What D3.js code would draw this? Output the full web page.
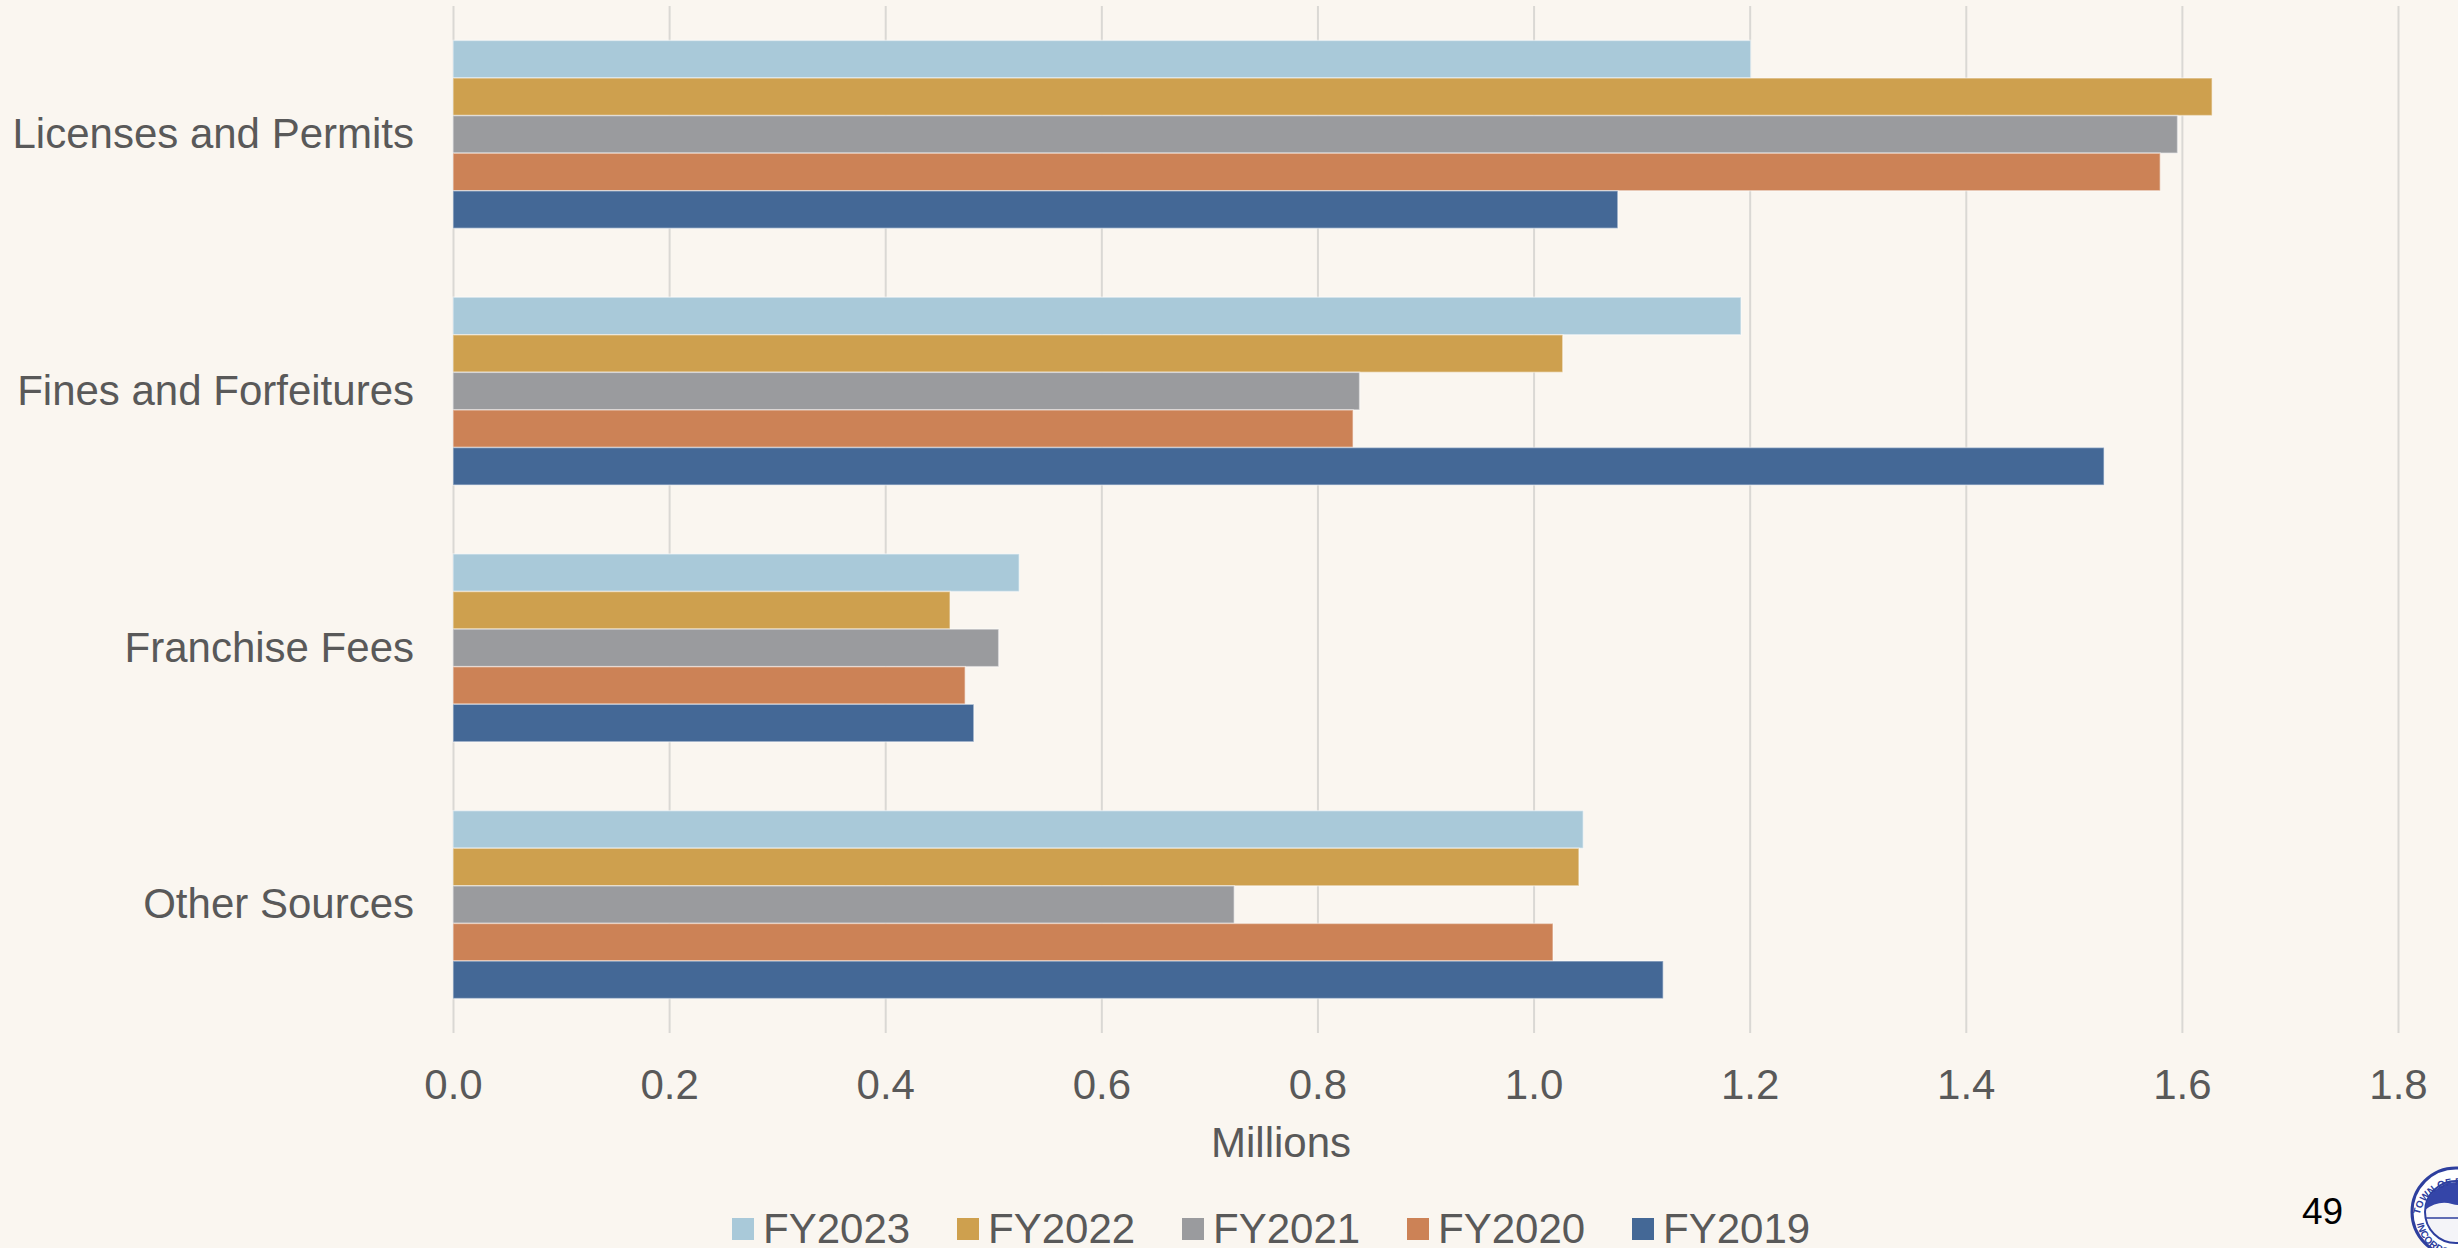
<!DOCTYPE html>
<html>
<head>
<meta charset="utf-8">
<script src="https://cdn.jsdelivr.net/npm/d3@7"></script>
<style>
  html, body { margin: 0; padding: 0; background: #FAF6F0; }
  svg { display: block; }
  text { font-family: "Liberation Sans", Arial, sans-serif; }
</style>
</head>
<body>
<svg id="chart" width="2458" height="1248"></svg>
<script>
// Revenue by source, in millions of dollars
const categories = ["Licenses and Permits", "Fines and Forfeitures", "Franchise Fees", "Other Sources"];
const seriesNames = ["FY2023", "FY2022", "FY2021", "FY2020", "FY2019"];
const fy2023 = [1.201, 1.192, 0.524, 1.046];
const fy2022 = [1.628, 1.027, 0.460, 1.042];
const fy2021 = [1.596, 0.839, 0.505, 0.723];
const fy2020 = [1.580, 0.833, 0.474, 1.018];
const fy2019 = [1.078, 1.528, 0.482, 1.120];
const tickValues = [0, 0.2, 0.4, 0.6, 0.8, 1.0, 1.2, 1.4, 1.6, 1.8];
const axisTitle = "Millions";
const pageNumber = "49";

const seriesValues = [fy2023, fy2022, fy2021, fy2020, fy2019];
const colors = ["#A9C9D9", "#CEA04E", "#9A9B9E", "#CC8256", "#446896"];

const svg = d3.select("#chart");
const W = 2458, H = 1248;
svg.append("rect").attr("width", W).attr("height", H).attr("fill", "#FAF6F0");

const plot = { left: 453, right: 2398, top: 6, bottom: 1033 };

const x = d3.scaleLinear().domain([0, 1.8]).range([plot.left, plot.right]);
const y = d3.scaleBand().domain(categories)
  .range([plot.top, plot.bottom])
  .paddingInner(0.268).paddingOuter(0.134);
const ySub = d3.scaleBand().domain(seriesNames).range([0, y.bandwidth()]);

// vertical gridlines
const grid = d3.axisBottom(x).tickValues(tickValues)
  .tickSize(-(plot.bottom - plot.top)).tickFormat("");
svg.append("g")
  .attr("transform", `translate(0,${plot.bottom})`)
  .call(grid)
  .call(g => g.select(".domain").remove())
  .call(g => g.selectAll("line").attr("stroke", "#DAD8D4").attr("stroke-width", 2));

// tick labels
const axis = d3.axisBottom(x).tickValues(tickValues).tickSize(0)
  .tickFormat(d3.format(".1f"));
svg.append("g")
  .attr("transform", `translate(0,${plot.bottom})`)
  .call(axis)
  .call(g => g.select(".domain").remove())
  .call(g => g.selectAll("text")
    .attr("y", 66).attr("dy", 0)
    .attr("fill", "#595959")
    .style("font-size", "42px")
    .style("font-family", "'Liberation Sans', Arial, sans-serif"));

// bars
const rows = categories.map((c, i) => ({
  cat: c,
  vals: seriesNames.map((s, j) => ({ s, v: seriesValues[j][i], color: colors[j] }))
}));

const groups = svg.append("g").selectAll("g")
  .data(rows).join("g")
  .attr("transform", d => `translate(0,${y(d.cat)})`);

groups.selectAll("rect")
  .data(d => d.vals).join("rect")
  .attr("x", x(0))
  .attr("y", d => ySub(d.s))
  .attr("width", d => x(d.v) - x(0))
  .attr("height", ySub.bandwidth())
  .attr("fill", d => d.color)
  .attr("stroke", "#FFFFFF")
  .attr("stroke-opacity", 0.45)
  .attr("stroke-width", 1.5);

// category labels
svg.append("g").selectAll("text")
  .data(categories).join("text")
  .attr("x", 414)
  .attr("y", d => y(d) + y.bandwidth() / 2)
  .attr("dy", "0.33em")
  .attr("text-anchor", "end")
  .attr("fill", "#595959")
  .style("font-size", "42px")
  .text(d => d);

// axis title
svg.append("text")
  .attr("x", 1281).attr("y", 1157)
  .attr("text-anchor", "middle")
  .attr("fill", "#595959")
  .style("font-size", "42px")
  .text(axisTitle);

// legend
const legend = svg.append("g").selectAll("g")
  .data(seriesNames).join("g")
  .attr("transform", (d, i) => `translate(${732 + i * 225},0)`);
legend.append("rect")
  .attr("x", 0).attr("y", 1218)
  .attr("width", 22).attr("height", 22)
  .attr("fill", (d, i) => colors[i]);
legend.append("text")
  .attr("x", 31).attr("y", 1243)
  .attr("fill", "#595959")
  .style("font-size", "42px")
  .text(d => d);

// page number
svg.append("text")
  .attr("x", 2302).attr("y", 1224)
  .attr("fill", "#000000")
  .style("font-size", "37px")
  .text(pageNumber);

// town seal in the corner
const seal = svg.append("g").attr("transform", "translate(2456,1212)");
seal.append("circle").attr("r", 44).attr("fill", "#FFFFFF")
  .attr("stroke", "#2E3F9E").attr("stroke-width", 3);
seal.append("circle").attr("r", 31).attr("fill", "#F4F4F8")
  .attr("stroke", "#2E3F9E").attr("stroke-width", 2);
seal.append("path")
  .attr("d", "M-31,-2 Q-18,-12 -4,-8 Q6,-5 14,-10 L30,-6 A31,31 0 0 0 -31,-2 Z")
  .attr("fill", "#3445A8");
seal.append("line").attr("x1", -30).attr("x2", 30).attr("y1", 6).attr("y2", 6)
  .attr("stroke", "#2E3F9E").attr("stroke-width", 1.5);
seal.append("path").attr("id", "sealArcTop")
  .attr("d", "M-37,10 A37,37 0 0 1 37,10").attr("fill", "none");
seal.append("text")
  .style("font-size", "10px").style("font-weight", "bold")
  .attr("fill", "#2E3F9E")
  .append("textPath").attr("href", "#sealArcTop")
  .attr("startOffset", "6%")
  .text("TOWN OF PARADISE VALLEY");
seal.append("path").attr("id", "sealArcBottom")
  .attr("d", "M-40,4 A40,40 0 0 0 40,4").attr("fill", "none");
seal.append("text")
  .style("font-size", "10px").style("font-weight", "bold")
  .attr("fill", "#2E3F9E")
  .append("textPath").attr("href", "#sealArcBottom")
  .attr("startOffset", "6%")
  .text("INCORPORATED");
</script>
</body>
</html>
